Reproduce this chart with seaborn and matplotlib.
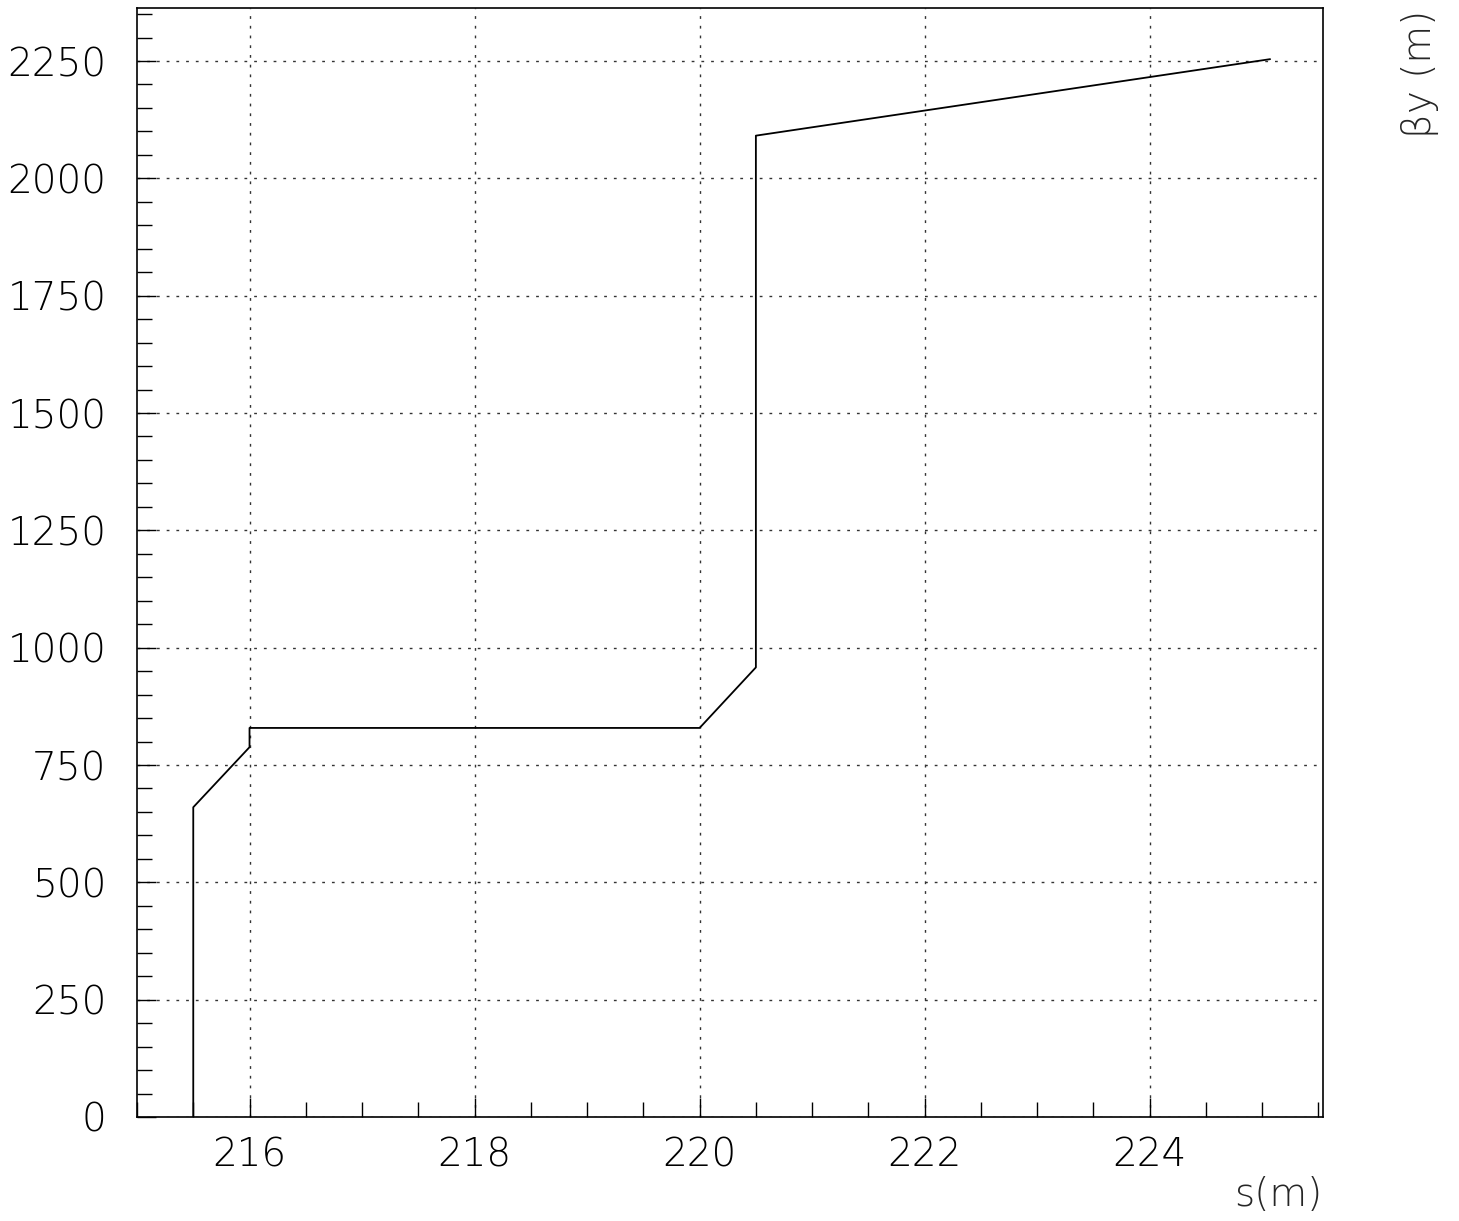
import numpy as np
import pandas as pd
import matplotlib
matplotlib.use("Agg")
import matplotlib.pyplot as plt
import seaborn as sns
from matplotlib.ticker import MultipleLocator

s_m = [215.5, 215.5, 216.0, 216.0, 220.0, 220.5, 220.5, 225.07]
beta_y = [0, 660, 788, 829, 829, 958, 2091, 2254]

df = pd.DataFrame({"s": s_m, "beta": beta_y})

sns.set_style("white", {"xtick.bottom": True, "ytick.left": True})
plt.rcParams["font.family"] = ["DejaVu Sans"]
plt.rcParams["font.weight"] = "light"

fig = plt.figure(figsize=(14.59, 12.21), dpi=100)
ax = fig.add_axes([137 / 1459, 1 - 1117 / 1221, (1323 - 137) / 1459, (1117 - 8) / 1221])

sns.lineplot(data=df, x="s", y="beta", sort=False, estimator=None,
             color="black", linewidth=1.3, ax=ax)

ax.set_xlim(215, 225.54)
ax.set_ylim(0, 2363)
ax.xaxis.set_major_locator(MultipleLocator(2))
ax.xaxis.set_minor_locator(MultipleLocator(0.5))
ax.yaxis.set_major_locator(MultipleLocator(250))
ax.yaxis.set_minor_locator(MultipleLocator(50))
ax.tick_params(axis="both", which="major", direction="in", length=14, width=1,
               labelsize=28, colors="black", pad=14,
               bottom=True, left=True)
ax.tick_params(axis="both", which="minor", direction="in", length=11, width=1,
               bottom=True, left=True, color="black")
ax.tick_params(axis="y", which="major", pad=22)
ax.grid(True, which="major", linestyle=(0, (2, 5)), color="#333333", linewidth=1)
for sp in ax.spines.values():
    sp.set_color("black")
    sp.set_linewidth(1.2)

ax.set_xlabel("")
ax.set_ylabel("")
fig.text(1322 / 1459, 1 - 1195 / 1221, "s(m)", ha="right", va="center",
         fontsize=28, fontweight="light")
fig.text(1420 / 1459, 1 - 10 / 1221, "βy (m)", ha="center", va="top",
         rotation=90, fontsize=28, fontweight="light")

fig.savefig("out.png", dpi=100)
